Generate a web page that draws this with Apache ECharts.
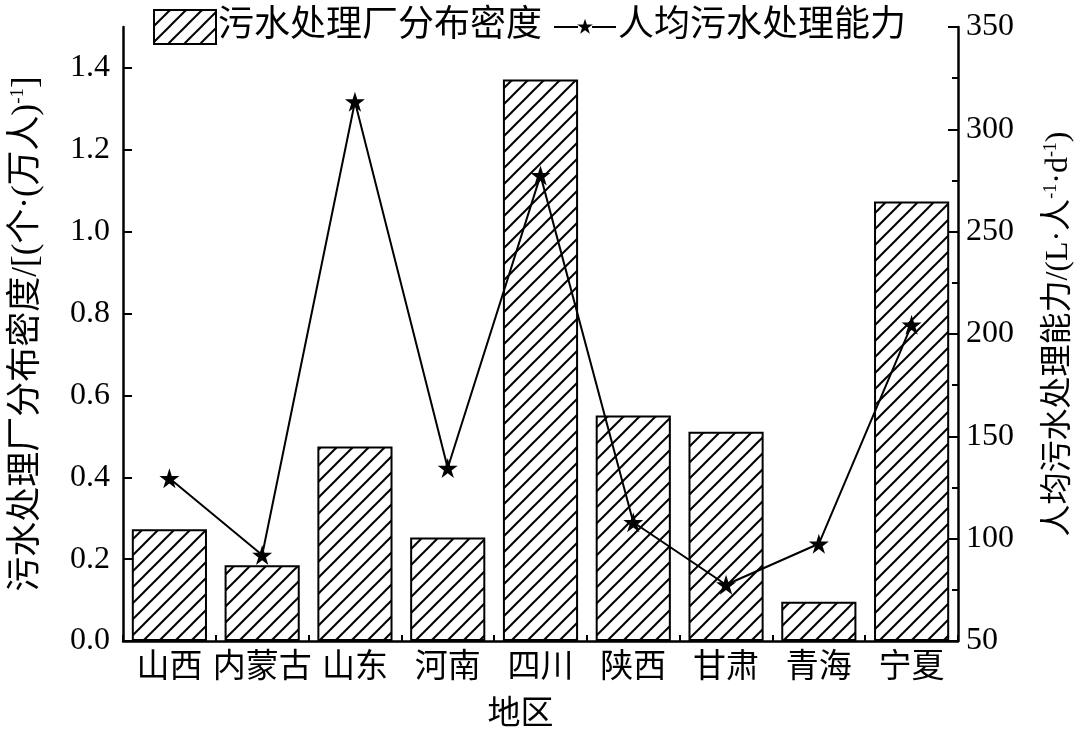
<!DOCTYPE html>
<html>
<head>
<meta charset="utf-8">
<script src="https://cdn.jsdelivr.net/npm/echarts@6/dist/echarts.min.js"></script>
<style>
html,body{margin:0;padding:0;background:#fff;}
#c{width:1080px;height:734px;}
</style>
</head>
<body>
<div id="c"></div>
<script>
// ---- data ----
var categories = ['山西','内蒙古','山东','河南','四川','陕西','甘肃','青海','宁夏'];
var densityValues = [0.273, 0.185, 0.475, 0.253, 1.372, 0.551, 0.511, 0.096, 1.074];
var capacityValues = [129.5, 92, 313.5, 134.5, 277.5, 108, 77.5, 97.5, 204.5];
var leftTicks = [0, 0.2, 0.4, 0.6, 0.8, 1.0, 1.2, 1.4];
var rightTicks = [50, 100, 150, 200, 250, 300, 350];

var FONT = '"Liberation Serif", "Noto Sans CJK SC", serif';
var STAR = 'path://M100,0 L122.45,69.1 L195.1,69.1 L136.3,111.8 L158.8,180.9 L100,138.2 L41.2,180.9 L63.7,111.8 L4.9,69.1 L77.55,69.1 Z';
// legend icon: line with a small star, in a 600x320 box
var LINE_STAR_ICON = 'path://M0,150 L232,150 L232,170 L0,170 Z M368,150 L600,150 L600,170 L368,170 Z ' +
  'M300,80 L318,135 L376,135 L329,169 L347,225 L300,191 L253,225 L271,169 L224,135 L282,135 Z ' +
  'M0,0 L0.1,0 L0.1,0.1 Z M600,320 L599.9,320 L599.9,319.9 Z';

function makeHatch() {
  var s = 16;
  var cv = document.createElement('canvas');
  cv.width = s; cv.height = s;
  var ctx = cv.getContext('2d');
  ctx.fillStyle = '#fff';
  ctx.fillRect(0, 0, s, s);
  ctx.strokeStyle = '#000';
  ctx.lineWidth = 2;
  [-s, 0, s].forEach(function (o) {
    ctx.beginPath();
    ctx.moveTo(o - 2, s + 2);
    ctx.lineTo(o + s + 2, -2);
    ctx.stroke();
  });
  return cv;
}
var hatch = { image: makeHatch(), repeat: 'repeat' };

var chart = echarts.init(document.getElementById('c'));
chart.setOption({
  animation: false,
  backgroundColor: '#fff',
  textStyle: { fontFamily: FONT, color: '#000' },
  grid: { left: 123, right: 122, top: 27, bottom: 93, containLabel: false, outerBoundsMode: 'none' },
  legend: {
    left: 148, top: 4,
    itemWidth: 62, itemHeight: 34, itemGap: 12,
    textStyle: { fontFamily: FONT, fontSize: 36, color: '#000', padding: [0, 0, 0, -3] },
    data: [
      { name: '污水处理厂分布密度', icon: 'rect', itemStyle: { color: hatch, borderColor: '#000', borderWidth: 2 } },
      { name: '人均污水处理能力', icon: LINE_STAR_ICON, itemStyle: { color: '#000', borderWidth: 0 }, lineStyle: { width: 0 } }
    ]
  },
  xAxis: [
    {
      type: 'category', data: categories, position: 'bottom',
      name: '地区', nameLocation: 'middle', nameGap: 58,
      nameTextStyle: { fontFamily: FONT, fontSize: 33, color: '#000', padding: [0, 40, 0, 0] },
      axisLine: { show: true, lineStyle: { color: '#000', width: 2.5 } },
      axisTick: { show: true, inside: true, length: 6, alignWithLabel: false, lineStyle: { color: '#000', width: 2 } },
      axisLabel: { fontFamily: FONT, fontSize: 33, color: '#000', margin: 11, interval: 0 },
      splitLine: { show: false }
    },
    {
      type: 'category', data: categories, position: 'bottom', offset: 0,
      axisLine: { show: false },
      axisTick: { show: true, inside: true, length: 10, alignWithLabel: true, lineStyle: { color: '#000', width: 2 } },
      axisLabel: { show: false },
      splitLine: { show: false }
    }
  ],
  yAxis: [
    {
      type: 'value', min: 0, max: 1.5, interval: 0.2, position: 'left',
      name: '污水处理厂分布密度/[(个·(万人){sup|-1}]',
      nameLocation: 'middle', nameGap: 78, nameRotate: 90,
      nameTextStyle: {
        fontFamily: FONT, fontSize: 35, color: '#000', lineHeight: 36,
        rich: { sup: { fontFamily: FONT, fontSize: 19, lineHeight: 19, verticalAlign: 'top', color: '#000' } }
      },
      axisLine: { show: true, lineStyle: { color: '#000', width: 2.5 } },
      axisTick: { show: true, inside: true, length: 9, customValues: leftTicks, lineStyle: { color: '#000', width: 2 } },
      axisLabel: {
        fontFamily: FONT, fontSize: 32, color: '#000', margin: 13,
        customValues: leftTicks,
        formatter: function (v) { return v.toFixed(1); }
      },
      splitLine: { show: false }
    },
    {
      type: 'value', min: 50, max: 350, interval: 50, position: 'right',
      name: '人均污水处理能力/(L·人{sup|-1}·d{sup|-1})',
      nameLocation: 'middle', nameGap: 84, nameRotate: 90,
      nameTextStyle: {
        fontFamily: FONT, fontSize: 32, color: '#000', lineHeight: 34,
        rich: { sup: { fontFamily: FONT, fontSize: 18, lineHeight: 18, verticalAlign: 'top', color: '#000' } }
      },
      axisLine: { show: true, lineStyle: { color: '#000', width: 2.5 } },
      axisTick: { show: true, inside: true, length: 10, lineStyle: { color: '#000', width: 2 } },
      minorTick: { show: true, splitNumber: 2, length: 6, lineStyle: { color: '#000', width: 2 } },
      axisLabel: { fontFamily: FONT, fontSize: 32, color: '#000', margin: 8, customValues: rightTicks },
      splitLine: { show: false }
    }
  ],
  series: [
    {
      name: '污水处理厂分布密度', type: 'bar', xAxisIndex: 0, yAxisIndex: 0,
      data: densityValues, barCategoryGap: '19%',
      itemStyle: { color: hatch, borderColor: '#000', borderWidth: 2 }
    },
    {
      name: '人均污水处理能力', type: 'line', xAxisIndex: 0, yAxisIndex: 1,
      data: capacityValues, symbol: STAR, symbolSize: 20, z: 5,
      lineStyle: { color: '#000', width: 2 },
      itemStyle: { color: '#000' }
    }
  ]
});
</script>
</body>
</html>
